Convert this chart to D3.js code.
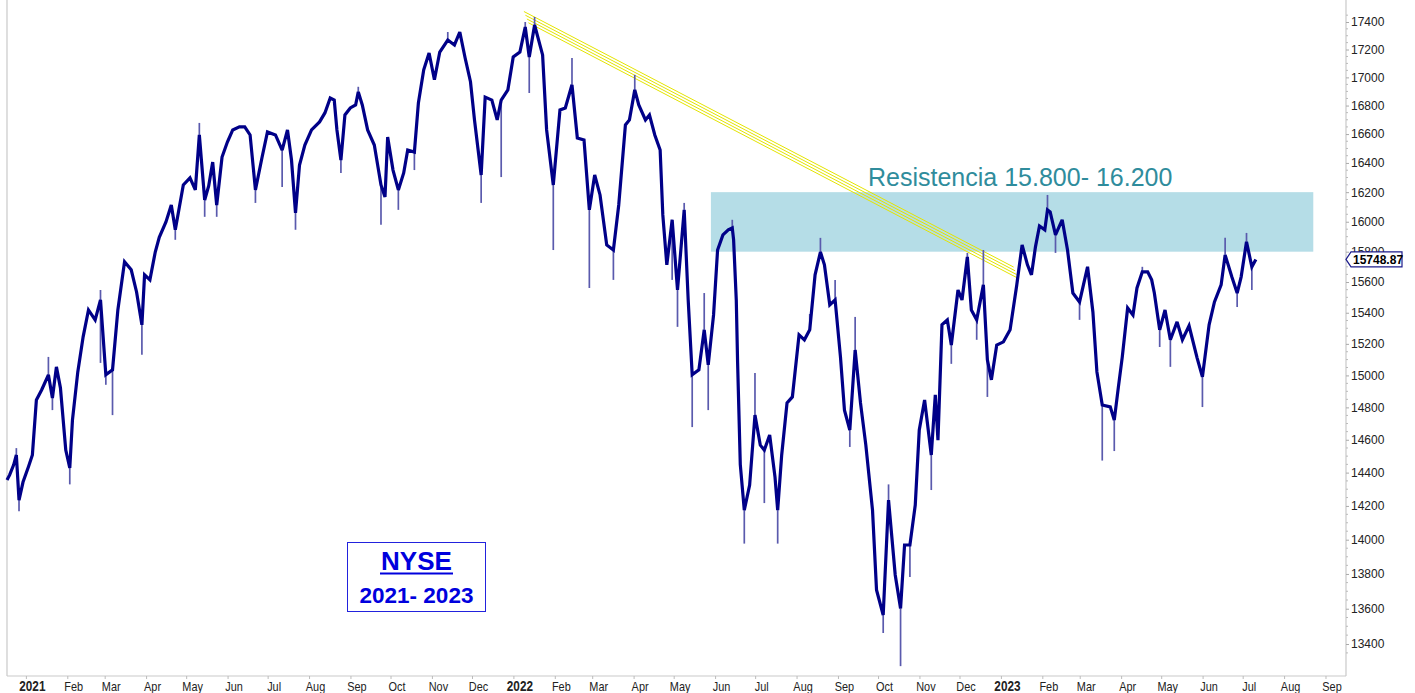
<!DOCTYPE html>
<html><head><meta charset="utf-8">
<script src="https://cdn.jsdelivr.net/npm/d3@7"></script>
<style>body{margin:0;background:#fff;} svg{display:block;}</style>
</head><body>
<svg id="chart" width="1415" height="693"></svg>
<script>
// ---- data ----
const dates = ["2020-12-13","2020-12-15","2020-12-18","2020-12-20","2020-12-22","2020-12-25","2020-12-29",
"2021-01-01","2021-01-04","2021-01-08","2021-01-13","2021-01-16","2021-01-19","2021-01-22","2021-01-26","2021-01-29","2021-01-31",
"2021-02-04","2021-02-08","2021-02-12","2021-02-17","2021-02-21","2021-02-25",
"2021-03-02","2021-03-06","2021-03-11","2021-03-16","2021-03-20","2021-03-24","2021-03-26","2021-03-30",
"2021-04-03","2021-04-06","2021-04-11","2021-04-15","2021-04-18","2021-04-24","2021-04-29",
"2021-05-03","2021-05-06","2021-05-10","2021-05-13","2021-05-16","2021-05-19","2021-05-23","2021-05-27","2021-05-31",
"2021-06-05","2021-06-09","2021-06-13","2021-06-17","2021-06-22","2021-06-26",
"2021-07-02","2021-07-07","2021-07-11","2021-07-14","2021-07-17","2021-07-20","2021-07-24","2021-07-29",
"2021-08-04","2021-08-08","2021-08-12","2021-08-15","2021-08-17","2021-08-20","2021-08-23","2021-08-27","2021-08-31",
"2021-09-02","2021-09-05","2021-09-09","2021-09-14","2021-09-19","2021-09-22","2021-09-24","2021-09-28",
"2021-10-02","2021-10-06","2021-10-09","2021-10-14","2021-10-17","2021-10-21","2021-10-25","2021-10-29",
"2021-11-02","2021-11-08","2021-11-13","2021-11-17","2021-11-21","2021-11-25","2021-11-28",
"2021-12-03","2021-12-06","2021-12-11","2021-12-15","2021-12-18","2021-12-23","2021-12-27",
"2022-01-01","2022-01-05","2022-01-08","2022-01-12","2022-01-18","2022-01-21","2022-01-26","2022-01-31",
"2022-02-04","2022-02-09","2022-02-13","2022-02-18","2022-02-22","2022-02-26",
"2022-03-02","2022-03-07","2022-03-12","2022-03-16","2022-03-21","2022-03-24","2022-03-28","2022-03-31",
"2022-04-05","2022-04-08","2022-04-12","2022-04-16","2022-04-18","2022-04-21","2022-04-25","2022-04-29",
"2022-05-04","2022-05-07","2022-05-10","2022-05-15","2022-05-19","2022-05-22","2022-05-26","2022-05-29",
"2022-06-02","2022-06-06","2022-06-09","2022-06-10","2022-06-12","2022-06-13","2022-06-15","2022-06-18","2022-06-22","2022-06-26","2022-06-30",
"2022-07-03","2022-07-07","2022-07-11","2022-07-13","2022-07-16","2022-07-20","2022-07-24","2022-07-29",
"2022-08-02","2022-08-06","2022-08-10","2022-08-14","2022-08-17","2022-08-21","2022-08-25","2022-08-29",
"2022-09-01","2022-09-05","2022-09-09","2022-09-13","2022-09-17","2022-09-22","2022-09-25","2022-09-30",
"2022-10-04","2022-10-09","2022-10-13","2022-10-16","2022-10-20","2022-10-24","2022-10-27","2022-10-31",
"2022-11-05","2022-11-08","2022-11-10","2022-11-13","2022-11-17","2022-11-20","2022-11-25","2022-11-28",
"2022-12-02","2022-12-05","2022-12-09","2022-12-14","2022-12-17","2022-12-20","2022-12-24","2022-12-29",
"2023-01-03","2023-01-08","2023-01-12","2023-01-16","2023-01-19","2023-01-22","2023-01-25","2023-01-29","2023-01-31",
"2023-02-02","2023-02-06","2023-02-11","2023-02-15","2023-02-19","2023-02-24",
"2023-03-02","2023-03-06","2023-03-09","2023-03-13","2023-03-19","2023-03-22","2023-03-25","2023-03-28",
"2023-04-01","2023-04-05","2023-04-08","2023-04-12","2023-04-16","2023-04-19","2023-04-21","2023-04-25","2023-04-29",
"2023-05-03","2023-05-08","2023-05-12","2023-05-17","2023-05-23","2023-05-27",
"2023-06-01","2023-06-05","2023-06-10","2023-06-13","2023-06-18","2023-06-22","2023-06-25","2023-06-29",
"2023-07-03","2023-07-06"];

const closes = [14355,14386,14447,14507,14235,14343,14434,
14507,14846,14910,15004,14858,15054,14922,14537,14428,14721,
15022,15245,15418,15354,15483,15004,
15035,15418,15733,15680,15535,15322,15647,15614,
15798,15896,15999,16113,15946,16249,16297,
16215,16594,16147,16242,16406,16113,16441,16545,16629,
16650,16650,16594,16215,16441,16615,
16594,16489,16629,16420,16060,16386,16524,16629,
16685,16748,16853,16839,16629,16420,16734,16783,16804,
16897,16804,16629,16524,16249,16167,16580,16351,
16215,16331,16489,16475,16818,17054,17175,16983,
17182,17269,17233,17327,17139,16969,16699,
16317,16860,16839,16699,16839,16911,17146,
17182,17363,17146,17378,17161,16629,16249,16769,
16783,16947,16573,16559,16080,16317,
16181,15845,15811,16113,16664,16699,16911,16804,
16699,16734,16594,16489,16046,15713,16013,15548,
16080,15483,15004,15035,15290,15067,15386,15811,
15912,15946,15959,15879,15483,15079,14449,14175,14325,14752,14567,
14537,14629,14373,14175,14507,14828,14865,15258,
15226,15290,15647,15798,15713,15450,15483,15117,
14783,14660,15161,14828,14567,14175,13708,13564,
14235,13794,13602,13969,13969,14205,14660,14846,
14507,14878,14598,15322,15354,15193,15548,15483,
15765,15418,15354,15581,15098,14972,15193,15213,
15290,15581,15845,15713,15647,15832,15972,15946,16080,
16066,15912,16013,15811,15528,15470,
15700,15405,15022,14815,14803,14721,14922,15117,
15431,15386,15561,15667,15667,15614,15528,15290,15418,
15226,15341,15226,15316,15111,14991,
15322,15470,15581,15779,15634,15528,15634,15866,
15700,15748.87];

const wickDates = ["2020-12-20","2020-12-22","2021-01-13","2021-01-16","2021-01-29","2021-02-21","2021-02-21","2021-02-25",
"2021-03-02","2021-03-24","2021-04-18","2021-05-06","2021-05-10","2021-05-19","2021-06-17","2021-07-07","2021-07-17",
"2021-08-20","2021-09-02","2021-09-19","2021-10-02","2021-10-14","2021-11-08","2021-12-03","2021-12-18",
"2022-01-05","2022-01-08","2022-01-12","2022-01-26","2022-02-09","2022-02-22","2022-03-12","2022-03-28",
"2022-04-25","2022-04-29","2022-05-04","2022-05-10","2022-05-19","2022-05-22","2022-06-09","2022-06-18",
"2022-06-26","2022-07-03","2022-07-13","2022-08-06","2022-08-14","2022-08-25","2022-09-05","2022-09-09",
"2022-09-30","2022-10-04","2022-10-13","2022-10-20","2022-11-05","2022-11-20","2022-12-02","2022-12-09",
"2022-12-14","2022-12-17","2023-01-31","2023-02-06","2023-02-24","2023-03-13","2023-03-22","2023-04-12",
"2023-04-25","2023-05-03","2023-05-27","2023-06-13","2023-06-22","2023-06-29","2023-07-03"];
const wickValues = [14549,14168,15117,14783,14329,15548,15079,14941,
14752,15130,15879,16678,16033,16033,16127,16235,15946,
16331,16933,15979,16080,16351,17327,16127,16303,
17400,16889,17437,15811,17139,15561,15614,17018,
15614,15309,16127,14678,15528,14783,16013,13977,
15016,14217,13977,15392,15892,15614,14556,15373,
13462,14329,13276,13782,14295,15073,15792,15226,
15811,14865,16181,15792,15354,14473,14531,15700,
15180,15054,14802,15892,15437,15925,15548];

const yTickValues = [13400,13600,13800,14000,14200,14400,14600,14800,15000,15200,15400,15600,15800,16000,16200,16400,16600,16800,17000,17200,17400];
const monthDates = ["2021-01-01","2021-02-01","2021-03-01","2021-04-01","2021-05-01","2021-06-01","2021-07-01","2021-08-01","2021-09-01","2021-10-01","2021-11-01","2021-12-01",
"2022-01-01","2022-02-01","2022-03-01","2022-04-01","2022-05-01","2022-06-01","2022-07-01","2022-08-01","2022-09-01","2022-10-01","2022-11-01","2022-12-01",
"2023-01-01","2023-02-01","2023-03-01","2023-04-01","2023-05-01","2023-06-01","2023-07-01","2023-08-01","2023-09-01"];
const monthLabels = ["2021","Feb","Mar","Apr","May","Jun","Jul","Aug","Sep","Oct","Nov","Dec",
"2022","Feb","Mar","Apr","May","Jun","Jul","Aug","Sep","Oct","Nov","Dec",
"2023","Feb","Mar","Apr","May","Jun","Jul","Aug","Sep"];

const zoneDates = ["2022-05-24","2023-08-18"];
const zoneValues = [15800,16200];
const trendDates = ["2022-01-04","2023-01-09"];
const trendValues = [17444,15654];
const lastValue = 15748.87;
const zoneText = "Resistencia 15.800- 16.200";
const titleLines = ["NYSE","2021- 2023"];

// ---- drawing ----
const parse = d3.utcParse("%Y-%m-%d");
const svg = d3.select("#chart");
const W = 1415, H = 693;
const left = 7, right = 1346, bottom = 676;

const x = d3.scaleUtc().domain([parse("2020-12-13"), parse("2023-09-07")]).range([7, 1340]);
const y = d3.scaleLog().domain([13400, 17400]).range([644, 22]);

svg.append("rect").attr("width", W).attr("height", H).attr("fill", "#fff");

// resistance zone
svg.append("rect")
  .attr("x", x(parse(zoneDates[0]))).attr("width", x(parse(zoneDates[1])) - x(parse(zoneDates[0])))
  .attr("y", y(zoneValues[1])).attr("height", y(zoneValues[0]) - y(zoneValues[1]))
  .attr("fill", "#b5dde7");

svg.append("text").attr("x", 868).attr("y", 186)
  .attr("font-family", "Liberation Sans, Arial, sans-serif").attr("font-size", 25)
  .attr("fill", "#2f8c9c").text(zoneText);

// frame
const frame = svg.append("g").attr("stroke", "#c9c9c9").attr("stroke-width", 1.2).attr("fill", "none");
frame.append("line").attr("x1", left).attr("x2", left).attr("y1", 0).attr("y2", bottom);
frame.append("line").attr("x1", left).attr("x2", right).attr("y1", bottom).attr("y2", bottom);
frame.append("line").attr("x1", right).attr("x2", right).attr("y1", 0).attr("y2", bottom);

// right axis
const yAxis = d3.axisRight(y).tickValues(yTickValues).tickFormat(d3.format("d")).tickSize(3).tickPadding(2);
const ya = svg.append("g").attr("transform", `translate(${right},0)`).call(yAxis);
ya.select(".domain").remove();
ya.selectAll("line").attr("stroke", "#aaa");
ya.selectAll("text").attr("font-family", "Liberation Sans, Arial, sans-serif").attr("font-size", 12).attr("fill", "#222");
// minor ticks
const minor = d3.range(13350, 17500, 50).filter(v => !yTickValues.includes(v));
svg.append("g").selectAll("line").data(minor).join("line")
  .attr("x1", right).attr("x2", right + 2).attr("y1", d => y(d)).attr("y2", d => y(d))
  .attr("stroke", "#bbb").attr("stroke-width", 1);

// bottom axis
const xa = svg.append("g").attr("transform", `translate(0,${bottom})`);
xa.selectAll("line").data(monthDates).join("line")
  .attr("x1", d => x(parse(d)) - 6).attr("x2", d => x(parse(d)) - 6).attr("y1", 0).attr("y2", 3)
  .attr("stroke", "#bbb");
xa.selectAll("text").data(monthDates).join("text")
  .attr("transform", d => `translate(${x(parse(d))},14.5) scale(0.84,1)`)
  .attr("text-anchor", "middle")
  .attr("font-family", "Liberation Sans, Arial, sans-serif")
  .attr("font-size", (d, i) => /^\d/.test(monthLabels[i]) ? 14 : 13)
  .attr("font-weight", (d, i) => /^\d/.test(monthLabels[i]) ? "bold" : "normal")
  .attr("fill", "#222")
  .text((d, i) => monthLabels[i]);

// trend channel lines
const tx0 = x(parse(trendDates[0])), tx1 = x(parse(trendDates[1]));
const ty0 = y(trendValues[0]), ty1 = y(trendValues[1]);
[-4.5, -1.5, 1.5, 4.5].forEach((o, i) => {
  svg.append("line")
    .attr("x1", tx0 + i * 1.5).attr("y1", ty0 + o + i * 0.75)
    .attr("x2", tx1 - (3 - i) * 1.5).attr("y2", ty1 + o - (3 - i) * 0.75)
    .attr("stroke", "#e4e400").attr("stroke-width", 1);
});

// price series
const pts = dates.map((d, i) => ({date: parse(d), v: closes[i]}));
const closeByDate = new Map(dates.map((d, i) => [d, closes[i]]));
svg.append("g").selectAll("line").data(wickDates).join("line")
  .attr("x1", d => x(parse(d))).attr("x2", d => x(parse(d)))
  .attr("y1", d => y(closeByDate.get(d)))
  .attr("y2", (d, i) => y(wickValues[i]))
  .attr("stroke", "#5a5aad").attr("stroke-width", 1.7);

svg.append("path").datum(pts)
  .attr("d", d3.line().x(d => x(d.date)).y(d => y(d.v)))
  .attr("fill", "none").attr("stroke", "#000088").attr("stroke-width", 3.2)
  .attr("stroke-linejoin", "miter").attr("stroke-miterlimit", 3);

// last price tag
const ly = y(lastValue);
svg.append("path")
  .attr("d", `M${right},${ly} L${right + 5},${ly - 7.5} L${right + 56},${ly - 7.5} L${right + 56},${ly + 7.5} L${right + 5},${ly + 7.5} Z`)
  .attr("fill", "#fff").attr("stroke", "#1c1c8c").attr("stroke-width", 1.2);
svg.append("text").attr("x", right + 7).attr("y", ly + 4.5)
  .attr("font-family", "Liberation Sans, Arial, sans-serif").attr("font-size", 12).attr("font-weight", "bold")
  .attr("fill", "#000").text(d3.format(".2f")(lastValue));

// title box
svg.append("rect").attr("x", 347.5).attr("y", 542.5).attr("width", 138).attr("height", 69)
  .attr("fill", "#fff").attr("stroke", "#2222dd").attr("stroke-width", 1);
svg.append("text").attr("x", 416.5).attr("y", 570).attr("text-anchor", "middle")
  .attr("font-family", "Liberation Sans, Arial, sans-serif").attr("font-size", 26).attr("font-weight", "bold")
  .attr("fill", "#0000dd").text(titleLines[0]);
svg.append("line").attr("x1", 380).attr("x2", 453).attr("y1", 573.5).attr("y2", 573.5).attr("stroke", "#0000dd").attr("stroke-width", 2);
svg.append("text").attr("x", 416.5).attr("y", 603).attr("text-anchor", "middle")
  .attr("font-family", "Liberation Sans, Arial, sans-serif").attr("font-size", 22.5).attr("font-weight", "bold")
  .attr("fill", "#0000dd").text(titleLines[1]);
</script>
</body></html>
